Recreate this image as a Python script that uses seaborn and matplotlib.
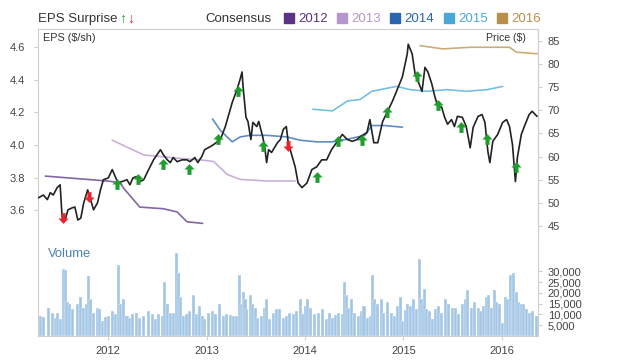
import numpy as np
import matplotlib
matplotlib.use("Agg")
import matplotlib.pyplot as plt
import seaborn as sns
from matplotlib.path import Path
from matplotlib.lines import Line2D
from matplotlib.ticker import FuncFormatter

# DATA (x = decimal year)

price_t = [2011.29, 2011.34, 2011.38, 2011.41, 2011.44, 2011.48, 2011.51, 2011.53, 2011.56, 2011.59,
           2011.63, 2011.66, 2011.69, 2011.72, 2011.75, 2011.79, 2011.82, 2011.85, 2011.89, 2011.92,
           2011.95, 2012.00, 2012.04, 2012.07, 2012.10, 2012.14, 2012.19, 2012.22, 2012.25, 2012.29,
           2012.32, 2012.36, 2012.41, 2012.46, 2012.53, 2012.56, 2012.60, 2012.63, 2012.66, 2012.70,
           2012.75, 2012.80, 2012.83, 2012.88, 2012.91, 2012.95, 2012.98, 2013.04, 2013.07, 2013.14,
           2013.19, 2013.26, 2013.31, 2013.34, 2013.36, 2013.37, 2013.40, 2013.42, 2013.45, 2013.47,
           2013.51, 2013.53, 2013.57, 2013.59, 2013.61, 2013.63, 2013.66, 2013.72, 2013.75, 2013.78,
           2013.81, 2013.83, 2013.87, 2013.90, 2013.93, 2013.97, 2014.02, 2014.07, 2014.12, 2014.17,
           2014.22, 2014.27, 2014.32, 2014.38, 2014.43, 2014.48, 2014.53, 2014.56, 2014.63, 2014.66,
           2014.70, 2014.74, 2014.79, 2014.84, 2014.89, 2014.94, 2014.99, 2015.04, 2015.05, 2015.09,
           2015.12, 2015.15, 2015.19, 2015.22, 2015.25, 2015.29, 2015.32, 2015.35, 2015.39, 2015.42,
           2015.45, 2015.49, 2015.52, 2015.55, 2015.60, 2015.64, 2015.68, 2015.71, 2015.76, 2015.80,
           2015.83, 2015.86, 2015.88, 2015.91, 2015.96, 2016.01, 2016.05, 2016.08, 2016.11, 2016.14,
           2016.16, 2016.20, 2016.23, 2016.28, 2016.31, 2016.36]
price_v = [51.1, 51.7, 50.7, 52.2, 51.7, 53.3, 53.9, 47.0, 46.3, 48.5,
           48.9, 49.1, 46.3, 46.7, 50.0, 52.8, 50.7, 48.5, 50.0, 52.8,
           55.0, 55.4, 57.2, 55.7, 54.3, 54.6, 55.0, 53.9, 55.4, 55.7,
           54.6, 55.0, 57.2, 59.3, 61.5, 60.4, 59.3, 58.7, 59.8, 58.9,
           59.3, 59.3, 58.9, 59.8, 58.7, 60.0, 61.5, 62.2, 62.6, 63.7,
           66.5, 71.7, 74.6, 76.7, 78.3, 75.2, 68.5, 67.6, 63.7, 67.4,
           66.5, 67.6, 64.3, 62.2, 58.7, 61.5, 60.9, 63.0, 63.7, 65.9,
           66.5, 63.0, 60.0, 57.8, 54.3, 53.3, 54.3, 57.2, 57.8, 59.3,
           59.3, 61.5, 63.0, 64.8, 63.7, 63.3, 63.7, 64.3, 65.2, 68.0,
           63.0, 63.0, 67.6, 69.8, 72.0, 74.6, 77.2, 82.2, 84.3, 82.2,
           77.8, 76.3, 74.1, 79.3, 78.3, 75.7, 73.0, 70.9, 70.7, 68.5,
           67.0, 68.0, 66.5, 68.7, 68.5, 66.5, 61.9, 66.3, 68.7, 69.1,
           67.4, 61.1, 58.7, 63.3, 64.8, 67.4, 68.0, 66.5, 62.6, 54.6,
           59.8, 64.8, 66.5, 69.1, 69.8, 68.7]

# consensus EPS estimates per fiscal year
c2012_t = [2011.36, 2011.99, 2012.12, 2012.15, 2012.32, 2012.56, 2012.70, 2012.80, 2012.96]
c2012_v = [3.81, 3.78, 3.77, 3.74, 3.62, 3.61, 3.59, 3.53, 3.52]
c2013_t = [2012.04, 2012.36, 2012.70, 2012.93, 2013.07, 2013.21, 2013.34, 2013.61, 2013.90]
c2013_v = [4.03, 3.94, 3.92, 3.91, 3.90, 3.82, 3.79, 3.78, 3.78]
c2014_t = [2013.06, 2013.14, 2013.26, 2013.34, 2013.44, 2013.61, 2013.82, 2013.95, 2014.12,
           2014.28, 2014.46, 2014.61, 2014.68, 2014.81, 2014.99]
c2014_v = [4.16, 4.09, 4.02, 4.05, 4.06, 4.06, 4.05, 4.03, 4.02, 4.02, 4.04, 4.06, 4.12, 4.12, 4.11]
c2015_t = [2014.08, 2014.28, 2014.43, 2014.56, 2014.68, 2014.93, 2015.07, 2015.24, 2015.44,
           2015.64, 2015.85, 2016.01]
c2015_v = [4.22, 4.21, 4.27, 4.28, 4.33, 4.36, 4.34, 4.33, 4.34, 4.33, 4.34, 4.36]
c2016_t = [2015.17, 2015.40, 2015.68, 2016.08, 2016.15, 2016.36]
c2016_v = [4.61, 4.59, 4.60, 4.60, 4.57, 4.56]

years = ["2012", "2013", "2014", "2015", "2016"]
year_colors = ["#5b3286", "#b597d0", "#2a66ad", "#4aa8d8", "#b8904a"]

# EPS surprises, placed on the price line
up_t = [2012.09, 2012.30, 2012.56, 2012.82, 2013.12, 2013.32, 2013.57, 2014.12,
        2014.34, 2014.58, 2014.83, 2015.14, 2015.35, 2015.59, 2015.85, 2016.15]
up_v = [54.1, 55.2, 58.3, 57.4, 63.7, 74.1, 62.4, 55.7, 63.3, 63.5, 69.6, 77.4, 71.1, 66.5, 63.7, 57.8]
down_t = [2011.54, 2011.80, 2013.83]
down_v = [46.7, 51.3, 62.2]

# volume (thousands)
vol_t = [2011.28, 2011.31, 2011.34, 2011.39, 2011.43, 2011.46, 2011.48, 2011.51, 2011.54, 2011.56,
         2011.58, 2011.61, 2011.64, 2011.69, 2011.72, 2011.75, 2011.78, 2011.80, 2011.82, 2011.85,
         2011.89, 2011.91, 2011.94, 2011.97, 2012.00, 2012.04, 2012.07, 2012.10, 2012.12, 2012.15,
         2012.19, 2012.22, 2012.25, 2012.29, 2012.32, 2012.36, 2012.41, 2012.45, 2012.48, 2012.51,
         2012.55, 2012.57, 2012.60, 2012.63, 2012.66, 2012.69, 2012.71, 2012.73, 2012.76, 2012.80,
         2012.83, 2012.87, 2012.90, 2012.93, 2012.96, 2012.98, 2013.02, 2013.06, 2013.09, 2013.13,
         2013.17, 2013.20, 2013.24, 2013.27, 2013.30, 2013.33, 2013.35, 2013.37, 2013.39, 2013.41,
         2013.45, 2013.47, 2013.50, 2013.52, 2013.56, 2013.59, 2013.61, 2013.64, 2013.68, 2013.71,
         2013.74, 2013.78, 2013.81, 2013.84, 2013.88, 2013.91, 2013.95, 2013.98, 2014.01, 2014.03,
         2014.06, 2014.10, 2014.14, 2014.18, 2014.22, 2014.25, 2014.28, 2014.31, 2014.34, 2014.38,
         2014.40, 2014.42, 2014.44, 2014.47, 2014.50, 2014.54, 2014.57, 2014.60, 2014.64, 2014.67,
         2014.69, 2014.71, 2014.74, 2014.78, 2014.80, 2014.84, 2014.88, 2014.91, 2014.94, 2014.97,
         2014.99, 2015.02, 2015.04, 2015.07, 2015.10, 2015.13, 2015.16, 2015.18, 2015.20, 2015.22,
         2015.24, 2015.27, 2015.30, 2015.33, 2015.36, 2015.39, 2015.43, 2015.46, 2015.50, 2015.53,
         2015.56, 2015.60, 2015.63, 2015.65, 2015.69, 2015.72, 2015.76, 2015.79, 2015.82, 2015.85,
         2015.87, 2015.90, 2015.93, 2015.95, 2015.98, 2016.01, 2016.04, 2016.06, 2016.09, 2016.11,
         2016.12, 2016.15, 2016.17, 2016.20, 2016.22, 2016.25, 2016.28, 2016.31, 2016.35]
vol_k = [12.5, 9.4, 8.9, 13.0, 10.7, 8.5, 10.7, 8.0, 31.0, 30.8,
         16.0, 14.7, 12.5, 14.7, 18.3, 13.0, 14.7, 28.0, 17.0, 10.7,
         13.0, 12.5, 7.0, 8.9, 9.4, 11.6, 10.3, 33.0, 14.7, 17.0,
         9.4, 8.5, 10.3, 10.7, 8.5, 9.4, 11.6, 10.3, 8.0, 10.3,
         9.4, 25.0, 15.0, 10.7, 10.7, 38.4, 29.4, 18.3, 9.4, 10.3,
         11.6, 19.2, 10.3, 13.8, 9.4, 8.0, 10.7, 11.6, 10.3, 15.0,
         9.4, 10.3, 9.8, 9.4, 9.4, 28.5, 14.7, 20.5, 17.4, 12.5,
         19.2, 15.0, 13.0, 8.5, 9.4, 13.0, 17.0, 8.0, 10.7, 12.5,
         12.5, 8.5, 9.4, 10.7, 10.3, 11.6, 17.4, 10.3, 13.8, 17.4,
         13.0, 10.3, 10.7, 12.5, 8.0, 10.7, 8.5, 9.6, 10.7, 10.3,
         25.0, 19.2, 13.0, 17.0, 10.7, 9.4, 11.6, 13.8, 8.5, 9.4,
         28.5, 17.4, 14.7, 17.4, 10.7, 16.0, 10.7, 9.4, 13.8, 18.3,
         7.0, 12.0, 14.7, 13.8, 17.0, 12.5, 36.0, 17.0, 14.7, 21.9,
         12.5, 11.6, 8.0, 12.5, 13.8, 10.7, 17.0, 14.7, 13.0, 13.0,
         10.3, 15.0, 17.4, 21.4, 13.0, 16.0, 13.0, 11.6, 13.8, 18.3,
         19.2, 13.0, 21.4, 16.0, 15.0, 6.2, 18.3, 17.0, 28.5, 16.0,
         29.4, 20.5, 16.0, 15.0, 15.0, 12.5, 10.7, 11.6, 9.4]

year_ticks = [2012, 2013, 2014, 2015, 2016]

# STYLE
sns.set_style("white")
plt.rcParams["font.family"] = ["Liberation Sans", "DejaVu Sans"]

gray = "#cfcfcf"
txt = "#444444"
green = "#1f9d2f"
red = "#e8232b"

fig = plt.figure(figsize=(6.2, 3.62), dpi=100)
ax = fig.add_axes([0.0605, 0.3536, 0.8073, 0.5663])
axp = ax.twinx()
axv = fig.add_axes([0.0605, 0.0718, 0.8073, 0.2818], sharex=ax)

# consensus lines (EPS axis)
cons = [(c2012_t, c2012_v), (c2013_t, c2013_v), (c2014_t, c2014_v),
        (c2015_t, c2015_v), (c2016_t, c2016_v)]
for (t, v), c in zip(cons, year_colors):
    sns.lineplot(x=t, y=v, ax=ax, color=c, lw=1.2, alpha=0.75)

# price line + surprise arrows (price axis)
sns.lineplot(x=price_t, y=price_v, ax=axp, color="#222222", lw=1.2)

up_arrow = Path([(0, 1), (0.95, 0.0), (0.38, 0.0), (0.38, -1), (-0.38, -1),
                 (-0.38, 0.0), (-0.95, 0.0), (0, 1)],
                [Path.MOVETO] + [Path.LINETO] * 6 + [Path.CLOSEPOLY])
down_arrow = Path([(x, -y) for x, y in up_arrow.vertices], up_arrow.codes)

sns.scatterplot(x=up_t, y=up_v, ax=axp, marker=up_arrow, s=60, color=green,
                linewidth=0, zorder=5)
sns.scatterplot(x=down_t, y=down_v, ax=axp, marker=down_arrow, s=60, color=red,
                linewidth=0, zorder=5)

# volume bars
axv.bar(vol_t, np.array(vol_k) * 1000, width=0.031, color="#a3c6e6",
        edgecolor="white", linewidth=0.25)

# AXES
ax.set_xlim(2011.28, 2016.37)
ax.set_ylim(3.455, 4.712)
ax.set_yticks([3.6, 3.8, 4.0, 4.2, 4.4, 4.6])
ax.yaxis.set_major_formatter(FuncFormatter(lambda v, _: f"{v:.1f}"))
axp.set_ylim(43.27, 87.59)
axp.set_yticks(range(45, 90, 5))
axv.set_ylim(0, 47400)
axv.set_yticks([5000, 10000, 15000, 20000, 25000, 30000])
axv.yaxis.set_major_formatter(FuncFormatter(lambda v, _: f"{int(v):,}"))
axv.set_xticks(year_ticks)
axv.set_xticklabels([str(y) for y in year_ticks])

for a in (ax, axp, axv):
    a.set_xlabel("")
    a.set_ylabel("")
    for s in a.spines.values():
        s.set_color(gray)
        s.set_linewidth(0.8)

ax.spines["bottom"].set_visible(False)
for s in ("left", "top", "bottom"):
    axp.spines[s].set_visible(False)
axv.spines["top"].set_visible(False)

tick_kw = dict(length=3, width=0.8, color=gray, labelsize=8, labelcolor=txt)
ax.tick_params(axis="y", left=True, pad=6, **tick_kw)
ax.tick_params(axis="x", bottom=False, labelbottom=False)
axp.tick_params(axis="y", right=True, pad=4, **tick_kw)
axv.tick_params(axis="y", left=False, labelleft=False, right=True, labelright=True, pad=4, **tick_kw)
axv.tick_params(axis="x", bottom=True, pad=4, **tick_kw)

# TEXT
ax.text(0.011, 0.956, "EPS ($/sh)", transform=ax.transAxes, fontsize=7.8,
        color="#333333", va="center", ha="left")
ax.text(0.976, 0.956, "Price ($)", transform=ax.transAxes, fontsize=7.6,
        color="#333333", va="center", ha="right", zorder=10)
axv.text(0.021, 0.80, "Volume", transform=axv.transAxes, fontsize=9.4,
         color="#4a82b0", va="center", ha="left")

fig.text(0.061, 0.9475, "EPS Surprise", fontsize=9.5, color="#333333", va="center")
fig.text(0.192, 0.9475, "\u2191", fontsize=10, color=green, fontweight="bold", va="center")
fig.text(0.205, 0.9475, "\u2193", fontsize=10, color=red, fontweight="bold", va="center")
fig.text(0.332, 0.9475, "Consensus", fontsize=9.5, color="#333333", va="center")

handles = [Line2D([], [], marker="s", ls="", color=c, markersize=7) for c in year_colors]
fig.legend(handles, years, ncol=5, loc="center left", bbox_to_anchor=(0.458, 0.9475),
           frameon=False, fontsize=9.5, handlelength=0.7, handletextpad=0.35,
           columnspacing=0.75, borderpad=0, borderaxespad=0, labelcolor=year_colors)

fig.savefig("out.png", dpi=100)
